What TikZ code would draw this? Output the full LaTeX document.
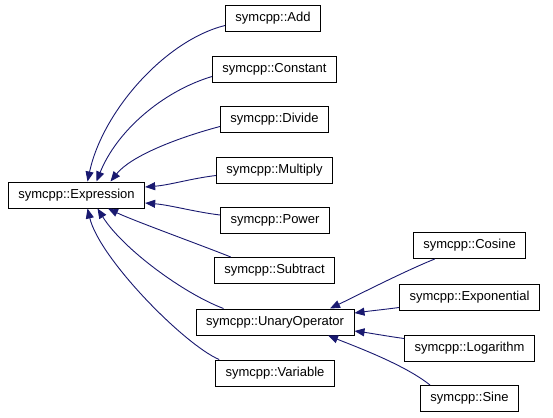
\documentclass[tikz,border=0pt]{standalone}
\usepackage{fontspec}
\setmainfont{Liberation Sans}
\usetikzlibrary{arrows.meta}
\definecolor{edgeblue}{HTML}{191970}
\begin{document}
\begin{tikzpicture}[x=1pt,y=-1pt,
  cls/.style={draw=black, fill=white, line width=1pt, minimum height=26pt,
    inner xsep=10pt, inner ysep=0pt, font=\fontsize{13}{15}\selectfont},
  edge/.style={draw=edgeblue, line width=0.9pt, -{Triangle[length=10pt,width=8pt]}}]
\useasboundingbox (0,0) rectangle (553,417);
% nodes
\node[cls] (expr)  at (76.5,195)  {symcpp::Expression};
\node[cls] (add)   at (273,18.5)  {symcpp::Add};
\node[cls] (const) at (274.5,69.5) {symcpp::Constant};
\node[cls] (div)   at (274.5,119.5) {symcpp::Divide};
\node[cls] (mult)  at (274.5,170.5) {symcpp::Multiply};
\node[cls] (pow)   at (275,220)   {symcpp::Power};
\node[cls] (sub)   at (274.5,270.5) {symcpp::Subtract};
\node[cls] (uo)    at (275,322)   {symcpp::UnaryOperator};
\node[cls] (var)   at (275,373)   {symcpp::Variable};
\node[cls] (cos)   at (469.5,245.5) {symcpp::Cosine};
\node[cls] (expo)  at (469.5,297) {symcpp::Exponential};
\node[cls] (log)   at (469.5,348) {symcpp::Logarithm};
\node[cls] (sine)  at (469.5,398.5) {symcpp::Sine};
% edges to Expression
\draw[edge] ([yshift=-7pt]add.west) .. controls +(-60,15) and +(15,-70) .. ([xshift=11pt]expr.north);
\draw[edge] ([yshift=-7pt]const.west) .. controls +(-50,15) and +(20,-50) .. ([xshift=20pt]expr.north);
\draw[edge] ([yshift=-7pt]div.west) .. controls +(-45,12) and +(20,-25) .. ([xshift=34pt]expr.north);
\draw[edge] ([yshift=-5pt]mult.west) .. controls +(-25,3) and +(25,-2) .. ([yshift=8pt]expr.east);
\draw[edge] ([yshift=5pt]pow.west) .. controls +(-25,-3) and +(25,2) .. ([yshift=-8pt]expr.east);
\draw[edge] ([xshift=17pt]sub.north west) .. controls +(-30,-12) and +(25,12) .. ([xshift=31.5pt]expr.south);
\draw[edge] ([xshift=28pt]uo.north west) .. controls +(-40,-15) and +(25,40) .. ([xshift=21pt]expr.south);
\draw[edge] ([xshift=4pt]var.north west) .. controls +(-35,-15) and +(12,50) .. ([xshift=11pt]expr.south);
% edges to UnaryOperator
\draw[edge] ([xshift=22pt]cos.south west) .. controls +(-30,12) and +(25,-12) .. ([xshift=55pt]uo.north);
\draw[edge] ([yshift=3pt]expo.south west) .. controls +(-15,2) and +(15,-2) .. ([yshift=9pt]uo.east);
\draw[edge] ([yshift=-4pt]log.north west) .. controls +(-15,-2) and +(15,2) .. ([yshift=-9pt]uo.east);
\draw[edge] ([xshift=10pt]sine.north west) .. controls +(-25,-20) and +(30,12) .. ([xshift=53pt]uo.south);
\end{tikzpicture}
\end{document}
